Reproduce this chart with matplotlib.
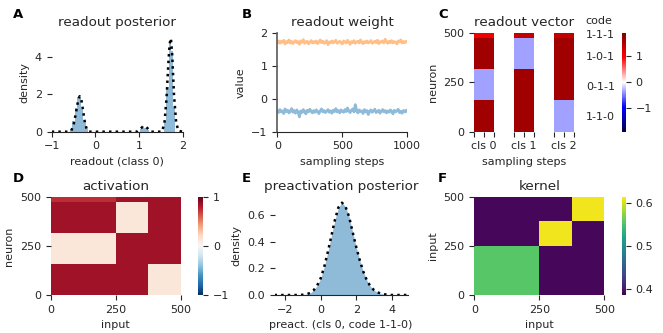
import numpy as np
import matplotlib
matplotlib.use("Agg")
import matplotlib.pyplot as plt

# ---- data ----
# A: readout posterior (class 0), histogram bins (width 0.05) and density curve
hist_a_x = [-0.55, -0.50, -0.45, -0.40, -0.35, -0.30, -0.25, -0.20,
            1.05, 1.10, 1.15, 1.20,
            1.60, 1.65, 1.70, 1.75, 1.80]
hist_a_y = [0.15, 0.55, 1.25, 1.85, 1.80, 1.20, 0.55, 0.12,
            0.15, 0.28, 0.22, 0.08,
            0.50, 2.40, 4.80, 4.30, 1.30]
kde_a_x = [-1.0, -0.62, -0.55, -0.50, -0.45, -0.40, -0.36, -0.32, -0.28, -0.24, -0.20, -0.15,
           0.95, 1.02, 1.08, 1.12, 1.17, 1.22, 1.28,
           1.52, 1.58, 1.63, 1.67, 1.70, 1.73, 1.76, 1.80, 1.85, 1.90, 2.0]
kde_a_y = [0, 0, 0.06, 0.35, 0.95, 1.60, 1.90, 1.70, 1.10, 0.50, 0.15, 0,
           0, 0.12, 0.26, 0.30, 0.24, 0.12, 0,
           0, 0.40, 1.80, 3.60, 4.70, 5.00, 4.10, 2.00, 0.50, 0.05, 0]

# B: readout weight traces over sampling steps
weight_hi = [1.70, 1.75, 1.68, 1.74, 1.71, 1.77, 1.66, 1.73, 1.70, 1.78, 1.69, 1.74, 1.67,
             1.72, 1.76, 1.70, 1.73, 1.65, 1.75, 1.71, 1.79, 1.68, 1.72, 1.74, 1.66, 1.71,
             1.76, 1.69, 1.73, 1.70, 1.75, 1.67, 1.72, 1.78, 1.70, 1.74, 1.68, 1.71, 1.76,
             1.64, 1.72, 1.70, 1.75, 1.69, 1.73, 1.77, 1.68, 1.71, 1.74, 1.70, 1.66, 1.75,
             1.72, 1.69, 1.77, 1.71, 1.65, 1.73, 1.70, 1.76, 1.68, 1.72, 1.74, 1.69, 1.78,
             1.71, 1.67, 1.73, 1.70, 1.75, 1.69, 1.72, 1.76, 1.68, 1.71, 1.74, 1.70, 1.77,
             1.67, 1.73, 1.71, 1.75, 1.69, 1.80, 1.72, 1.68, 1.74, 1.70, 1.76, 1.69, 1.73,
             1.71, 1.66, 1.75, 1.72, 1.78, 1.69, 1.73, 1.70, 1.74, 1.71]
weight_lo = [-0.36, -0.42, -0.33, -0.40, -0.37, -0.45, -0.31, -0.39, -0.35, -0.43, -0.38,
             -0.30, -0.41, -0.36, -0.44, -0.34, -0.40, -0.55, -0.37, -0.42, -0.33, -0.39,
             -0.46, -0.35, -0.40, -0.32, -0.38, -0.43, -0.36, -0.41, -0.34, -0.39, -0.45,
             -0.37, -0.31, -0.40, -0.36, -0.42, -0.38, -0.33, -0.41, -0.37, -0.44, -0.35,
             -0.39, -0.30, -0.40, -0.36, -0.43, -0.34, -0.38, -0.41, -0.33, -0.39, -0.28,
             -0.37, -0.42, -0.35, -0.31, -0.40, -0.18, -0.36, -0.43, -0.34, -0.39, -0.37,
             -0.45, -0.33, -0.40, -0.36, -0.48, -0.38, -0.34, -0.41, -0.37, -0.32, -0.42,
             -0.39, -0.35, -0.44, -0.38, -0.33, -0.40, -0.36, -0.43, -0.37, -0.41, -0.34,
             -0.39, -0.46, -0.35, -0.40, -0.37, -0.32, -0.42, -0.38, -0.44, -0.36, -0.40,
             -0.35, -0.39]

# C: readout vector per class, neuron blocks (bottom -> top)
neuron_edges = [0, 158, 316, 474, 500]
code_labels = ["1-1-0", "0-1-1", "1-0-1", "1-1-1"]
class_labels = ["cls 0", "cls 1", "cls 2"]
readout_cls0 = [1.68, -0.36, 1.68, 1.05]
readout_cls1 = [1.68, 1.68, -0.36, 1.40]
readout_cls2 = [-0.36, 1.68, 1.68, 1.40]

# D: activation, neuron blocks x input blocks
input_edges = [0, 250, 375, 500]
act_110 = [0.85, 0.85, 0.12]
act_011 = [0.12, 0.85, 0.85]
act_101 = [0.85, 0.12, 0.85]
act_111 = [0.74, 0.85, 0.85]

# E: preactivation posterior (cls 0, code 1-1-0)
preact_x = [-2.6, -1.2, -1.0, -0.8, -0.6, -0.4, -0.2, 0.0, 0.2, 0.4, 0.6, 0.8, 1.0, 1.2,
            1.4, 1.6, 1.8, 2.0, 2.2, 2.4, 2.6, 2.8, 3.0, 3.2, 3.4, 3.6, 3.8, 4.0, 4.9]
preact_y = [0, 0, 0.002, 0.006, 0.015, 0.035, 0.07, 0.125, 0.21, 0.32, 0.44, 0.56, 0.655,
            0.69, 0.66, 0.585, 0.47, 0.36, 0.26, 0.175, 0.11, 0.065, 0.037, 0.02, 0.01,
            0.005, 0.002, 0, 0]

# F: kernel, input blocks x input blocks
kernel_row0 = [0.555, 0.39, 0.39]
kernel_row1 = [0.39, 0.61, 0.39]
kernel_row2 = [0.39, 0.39, 0.61]

# ---- style ----
plt.rcParams.update({
    "font.family": "DejaVu Sans",
    "font.size": 8,
    "axes.titlesize": 9.7,
    "axes.labelsize": 8,
    "xtick.labelsize": 8,
    "ytick.labelsize": 8,
    "text.color": ".15",
    "axes.labelcolor": ".15",
    "xtick.color": ".15",
    "ytick.color": ".15",
    "axes.edgecolor": ".15",
})

W, H = 663, 333
BLUE = "#8fbbd9"
ORANGE = "#ffbf86"

fig = plt.figure(figsize=(W / 100, H / 100), dpi=100)


def px_axes(l, t, r, b):
    return fig.add_axes([l / W, 1 - b / H, (r - l) / W, (b - t) / H])


def letter(x, y, s):
    fig.text(x / W, 1 - y / H, s, fontsize=9.5, fontweight="bold", va="top", ha="left",
             color="black")


def strip(ax, keep=()):
    for side in ["top", "right", "left", "bottom"]:
        ax.spines[side].set_visible(side in keep)


# A
ax = px_axes(51.7, 32.7, 182.7, 131.7)
ax.bar(hist_a_x, hist_a_y, width=0.05, color=BLUE, linewidth=0)
ax.plot(kde_a_x, kde_a_y, ":", color="black", lw=1.8)
ax.set_xlim(-1, 2)
ax.set_ylim(0, 5.3)
ax.set_xticks([-1, 0, 1, 2])
ax.set_yticks([0, 2, 4])
ax.set_xlabel("readout (class 0)")
ax.set_ylabel("density")
ax.set_title("readout posterior", pad=4.5)
strip(ax, keep=("bottom",))
letter(13, 8, "A")

# B
ax = px_axes(277.3, 32.7, 407.3, 131.7)
ax.plot(np.linspace(0, 1000, len(weight_hi)), weight_hi, color=ORANGE, lw=2.0)
ax.plot(np.linspace(0, 1000, len(weight_lo)), weight_lo, color=BLUE, lw=2.0)
ax.set_xlim(0, 1000)
ax.set_ylim(-1, 2)
ax.set_xticks([0, 500, 1000])
ax.set_yticks([-1, 0, 1, 2])
ax.set_xlabel("sampling steps")
ax.set_ylabel("value")
ax.set_title("readout weight", pad=4.5)
strip(ax, keep=("left", "bottom"))
ax.spines["left"].set_linewidth(1.2)
ax.spines["left"].set_color(".35")
letter(242, 8, "B")

# C
ax = px_axes(474, 32.7, 574, 131.7)
gap = [np.nan] * len(readout_cls0)
readout = np.array([readout_cls0, gap, readout_cls1, gap, readout_cls2]).T
readout = np.ma.masked_invalid(readout)
mesh = ax.pcolormesh(np.arange(readout.shape[1] + 1), neuron_edges, readout,
                     cmap="seismic", vmin=-1.92, vmax=1.92)
ax.set_xlim(0, readout.shape[1])
ax.set_ylim(0, 500)
ax.set_xticks([0.5, 2.5, 4.5])
ax.set_xticklabels(class_labels)
ax.set_xticks([0, 1, 2, 3, 4, 5], minor=True)
ax.tick_params(which="minor", length=3.5, width=0.8)
ax.set_yticks([0, 250, 500])
ax.set_xlabel("sampling steps")
ax.set_ylabel("neuron")
ax.set_title("readout vector", pad=4.5)
strip(ax)
for lab, yv in zip(code_labels, [74, 226, 377, 486]):
    ax.text(1.12, yv, lab, transform=ax.get_yaxis_transform(), fontsize=8,
            va="center", ha="left")
fig.text(585 / W, 1 - 21 / H, "code", fontsize=8, va="center", ha="left", color=".15")
cax = px_axes(622, 32.7, 626, 131.7)
cb = fig.colorbar(mesh, cax=cax, ticks=[-1, 0, 1])
cb.outline.set_visible(False)
letter(438, 8, "C")

# D
ax = px_axes(50.7, 196.7, 181, 295)
activation = np.array([act_110, act_011, act_101, act_111])
mesh = ax.pcolormesh(input_edges, neuron_edges, activation, cmap="RdBu_r", vmin=-1, vmax=1)
ax.set_xlim(0, 500)
ax.set_ylim(0, 500)
ax.set_xticks([0, 250, 500])
ax.set_yticks([0, 250, 500])
ax.set_xlabel("input")
ax.set_ylabel("neuron")
ax.set_title("activation", pad=4.5)
strip(ax)
cax = px_axes(198.3, 196.7, 203.3, 295)
cb = fig.colorbar(mesh, cax=cax, ticks=[-1, 0, 1])
cb.outline.set_visible(False)
letter(13, 172, "D")

# E
ax = px_axes(274.5, 196.7, 407.7, 295)
ax.fill_between(preact_x, preact_y, color=BLUE, linewidth=0)
ax.plot(preact_x, preact_y, ":", color="black", lw=1.8)
ax.set_xlim(-2.6, 4.9)
ax.set_ylim(0, 0.735)
ax.set_xticks([-2, 0, 2, 4])
ax.set_yticks([0, 0.2, 0.4, 0.6])
ax.set_xlabel("preact. (cls 0, code 1-1-0)")
ax.set_ylabel("density")
ax.set_title("preactivation posterior", pad=4.5)
strip(ax, keep=("bottom",))
letter(242, 172, "E")

# F
ax = px_axes(474.3, 196.7, 604.3, 295)
kernel = np.array([kernel_row0, kernel_row1, kernel_row2])
mesh = ax.pcolormesh(input_edges, input_edges, kernel, cmap="viridis", vmin=0.386, vmax=0.615)
ax.set_xlim(0, 500)
ax.set_ylim(0, 500)
ax.set_xticks([0, 250, 500])
ax.set_yticks([0, 250, 500])
ax.set_xlabel("input")
ax.set_ylabel("input")
ax.set_title("kernel", pad=4.5)
strip(ax)
cax = px_axes(622.3, 196.7, 626, 295)
cb = fig.colorbar(mesh, cax=cax, ticks=[0.4, 0.5, 0.6])
cb.outline.set_visible(False)
letter(438, 172, "F")

fig.savefig("out.png", dpi=100)
